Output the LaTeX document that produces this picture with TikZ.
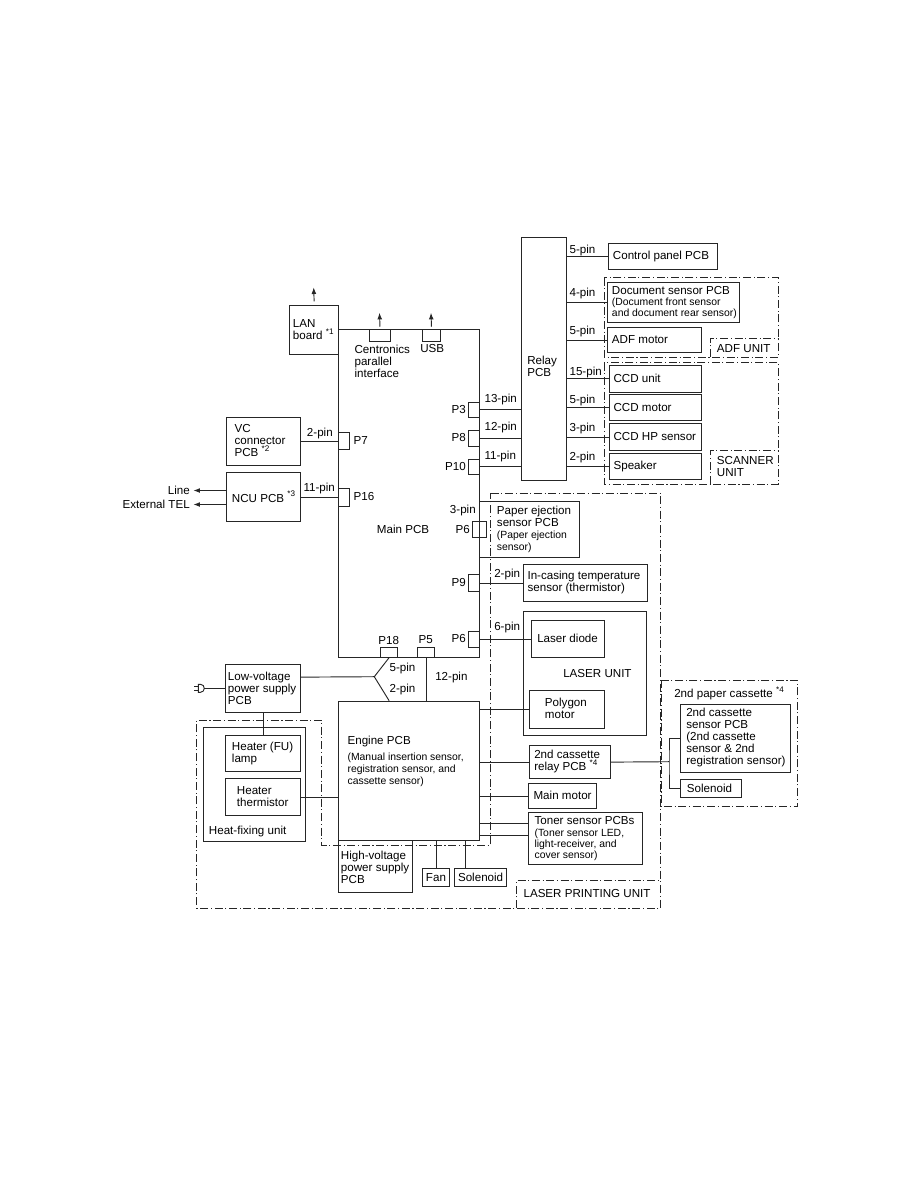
\documentclass[tikz,border=0pt]{standalone}
\usepackage{fontspec}
\setmainfont{Liberation Sans}
\usetikzlibrary{arrows.meta}
\pgfdeclarelayer{edgelayer}
\pgfdeclarelayer{nodelayer}
\pgfsetlayers{edgelayer,nodelayer,main}
\newcommand{\smalltxt}{\fontsize{7.8}{8.5}\selectfont}
\tikzstyle{none}=[inner sep=0pt, anchor=west, align=left, font=\fontsize{8.7}{9}\selectfont]
\tikzstyle{box}=[rectangle, draw=black!85, line width=0.7pt, anchor=north west, inner sep=0pt]
\tikzstyle{edge}=[draw=black!85, line width=0.7pt]
\tikzstyle{arrow}=[draw=black!85, line width=0.7pt, -{Latex[length=5pt,width=3.6pt]}]
\tikzstyle{unit}=[draw=black!85, line width=0.6pt, dash pattern=on 6pt off 2pt on 0.8pt off 2pt]
\tikzset{sz/.style 2 args={minimum width=#1*0.75pt, minimum height=#2*0.75pt}}

\begin{document}
\begin{tikzpicture}[x=0.75pt, y=-0.75pt]
	\useasboundingbox (0,0) rectangle (918,1188);
	\begin{pgfonlayer}{nodelayer}
		\node [style=box, sz={141.3}{327.7}] (0) at (338, 329) {};
		\node [style=box, sz={48.7}{48.4}] (1) at (289.3, 305.3) {};
		\node [style=box, sz={21.6}{12.3}] (2) at (368.7, 329) {};
		\node [style=box, sz={17.4}{12.3}] (3) at (422.3, 329) {};
		\node [style=box, sz={74.3}{47.7}] (4) at (225.7, 417.3) {};
		\node [style=box, sz={74.3}{48.7}] (5) at (225.7, 472.3) {};
		\node [style=box, sz={11}{17.6}] (6) at (338, 431.7) {};
		\node [style=box, sz={11}{17.7}] (7) at (338, 488.3) {};
		\node [style=box, sz={11.6}{15}] (8) at (467.7, 401.7) {};
		\node [style=box, sz={11.6}{15.7}] (9) at (467.7, 430) {};
		\node [style=box, sz={11.6}{15.3}] (10) at (467.7, 458.7) {};
		\node [style=box, sz={44.7}{242.7}] (11) at (521, 237.3) {};
		\node [style=box, sz={109.3}{26}] (12) at (608, 243.3) {};
		\node [style=box, sz={132}{40.6}] (13) at (607.3, 281.7) {};
		\node [style=box, sz={93.4}{25.6}] (14) at (607.3, 326.7) {};
		\node [style=box, sz={92.6}{26.7}] (15) at (608.7, 365) {};
		\node [style=box, sz={92.6}{25.7}] (16) at (608.7, 394.3) {};
		\node [style=box, sz={92.6}{26.4}] (17) at (608.7, 423.3) {};
		\node [style=box, sz={92.6}{26}] (18) at (608.7, 453.3) {};
		\node [style=box, sz={100}{56.6}] (19) at (479.3, 500.7) {};
		\node [style=box, sz={14.3}{16.6}] (20) at (471.7, 520.7) {};
		\node [style=box, sz={11.6}{16.7}] (21) at (467.7, 574.3) {};
		\node [style=box, sz={124}{36.4}] (22) at (522.7, 564.3) {};
		\node [style=box, sz={11.6}{16}] (23) at (467.7, 630.7) {};
		\node [style=box, sz={122.7}{124.3}] (24) at (523.3, 610.7) {};
		\node [style=box, sz={73.6}{36.7}] (25) at (530.7, 620) {};
		\node [style=box, sz={75}{37.7}] (26) at (529.3, 690) {};
		\node [style=box, sz={17.3}{10}] (27) at (380, 646.7) {};
		\node [style=box, sz={17.6}{10}] (28) at (416.7, 646.7) {};
		\node [style=box, sz={74.7}{48}] (29) at (225.3, 664) {};
		\node [style=box, sz={102}{113.4}] (30) at (203.3, 727.3) {};
		\node [style=box, sz={74.7}{36}] (31) at (225.3, 735) {};
		\node [style=box, sz={74.7}{36.7}] (32) at (225.3, 778.3) {};
		\node [style=box, sz={141.6}{139.3}] (33) at (337.7, 700.7) {};
		\node [style=box, sz={74.3}{51.7}] (34) at (337.7, 840) {};
		\node [style=box, sz={27.6}{18.3}] (35) at (421.7, 867.7) {};
		\node [style=box, sz={51.7}{18.3}] (36) at (454.3, 867.7) {};
		\node [style=box, sz={80.7}{33.3}] (37) at (529.3, 745) {};
		\node [style=box, sz={67.4}{25.6}] (38) at (528.3, 782.7) {};
		\node [style=box, sz={113.4}{52.6}] (39) at (528.3, 811.7) {};
		\node [style=box, sz={110}{67.7}] (40) at (680, 704) {};
		\node [style=box, sz={61}{18.6}] (41) at (680, 778.7) {};
		\node [style=none] (50) at (292.7, 329.5) {LAN\\board \textsuperscript{*1}};
		\node [style=none] (51) at (354.3, 361) {Centronics\\parallel\\interface};
		\node [style=none] (52) at (420, 349) {USB};
		\node [style=none] (53) at (234.3, 441) {VC\\connector\\PCB \textsuperscript{*2}};
		\node [style=none] (54) at (231.7, 496.7) {NCU PCB \textsuperscript{*3}};
		\node [style=none] (55) at (306.7, 433) {2-pin};
		\node [style=none] (56) at (303.3, 488.7) {11-pin};
		\node [style=none] (57) at (353.3, 441) {P7};
		\node [style=none] (58) at (353.3, 497) {P16};
		\node [style=none, anchor=east] (59) at (190, 490.5) {Line};
		\node [style=none, anchor=east] (60) at (190, 504.5) {External TEL};
		\node [style=none] (61) at (376.7, 529.3) {Main PCB};
		\node [style=none] (62) at (527, 366) {Relay\\PCB};
		\node [style=none, anchor=east] (63) at (466, 409.3) {P3};
		\node [style=none, anchor=east] (64) at (466, 437.7) {P8};
		\node [style=none, anchor=east] (65) at (466, 466.7) {P10};
		\node [style=none] (66) at (484.3, 399.3) {13-pin};
		\node [style=none] (67) at (484.3, 427.7) {12-pin};
		\node [style=none] (68) at (484.3, 456.7) {11-pin};
		\node [style=none] (69) at (569.3, 250.7) {5-pin};
		\node [style=none] (70) at (569.3, 293.3) {4-pin};
		\node [style=none] (71) at (569.3, 331) {5-pin};
		\node [style=none] (72) at (569.3, 372.7) {15-pin};
		\node [style=none] (73) at (569.3, 400.7) {5-pin};
		\node [style=none] (74) at (569.3, 428.7) {3-pin};
		\node [style=none] (75) at (569.3, 457.7) {2-pin};
		\node [style=none] (76) at (612.7, 256.3) {Control panel PCB};
		\node [style=none] (77) at (611.7, 302.6) {Document sensor PCB\\[-0.5pt]{\smalltxt (Document front sensor}\\[-1pt]{\smalltxt and document rear sensor)}};
		\node [style=none] (78) at (611.7, 339.5) {ADF motor};
		\node [style=none] (79) at (613.3, 378.3) {CCD unit};
		\node [style=none] (80) at (613.3, 407.2) {CCD motor};
		\node [style=none] (81) at (613.3, 436.5) {CCD HP sensor};
		\node [style=none] (82) at (613.3, 466.3) {Speaker};
		\node [style=none] (83) at (716.7, 348.3) {ADF UNIT};
		\node [style=none] (84) at (716.7, 467) {SCANNER\\UNIT};
		\node [style=none, anchor=east] (85) at (476, 510.7) {3-pin};
		\node [style=none, anchor=east] (86) at (470, 529) {P6};
		\node [style=none] (87) at (496.7, 529) {Paper ejection\\sensor PCB\\{\smalltxt (Paper ejection}\\{\smalltxt sensor)}};
		\node [style=none] (88) at (494, 574.3) {2-pin};
		\node [style=none, anchor=east] (89) at (466, 582.7) {P9};
		\node [style=none] (90) at (527.3, 582.5) {In-casing temperature\\sensor (thermistor)};
		\node [style=none] (91) at (494, 627.7) {6-pin};
		\node [style=none, anchor=east] (92) at (466, 638.7) {P6};
		\node [style=none] (93) at (537, 638.3) {Laser diode};
		\node [style=none] (94) at (563, 673.3) {LASER UNIT};
		\node [style=none] (95) at (544.7, 708.8) {Polygon\\motor};
		\node [style=none, anchor=center] (96) at (388.7, 640) {P18};
		\node [style=none, anchor=center] (97) at (425.7, 640) {P5};
		\node [style=none] (98) at (389.3, 668.3) {5-pin};
		\node [style=none] (99) at (389.3, 689.3) {2-pin};
		\node [style=none] (100) at (435, 677.3) {12-pin};
		\node [style=none] (101) at (227.7, 688.5) {Low-voltage\\power supply\\PCB};
		\node [style=none] (102) at (231.7, 753) {Heater (FU)\\lamp};
		\node [style=none] (103) at (236.7, 797) {Heater\\thermistor};
		\node [style=none] (104) at (208.7, 831) {Heat-fixing unit};
		\node [style=none] (105) at (347.3, 761.5) {Engine PCB\\[3.5pt]{\smalltxt (Manual insertion sensor,}\\{\smalltxt registration sensor, and}\\{\smalltxt cassette sensor)}};
		\node [style=none] (106) at (340.7, 867) {High-voltage\\power supply\\PCB};
		\node [style=none, anchor=center] (107) at (35.center) {Fan};
		\node [style=none, anchor=center] (108) at (36.center) {Solenoid};
		\node [style=none] (109) at (523.3, 893.3) {LASER PRINTING UNIT};
		\node [style=none] (110) at (534, 761.7) {2nd cassette\\relay PCB \textsuperscript{*4}};
		\node [style=none] (111) at (533.3, 795.5) {Main motor};
		\node [style=none] (112) at (534.3, 838.4) {Toner sensor PCBs\\{\smalltxt (Toner sensor LED,}\\[-0.5pt]{\smalltxt light-receiver, and}\\[-0.5pt]{\smalltxt cover sensor)}};
		\node [style=none] (113) at (674, 693.3) {2nd paper cassette \textsuperscript{*4}};
		\node [style=none] (114) at (686, 737.8) {2nd cassette\\sensor PCB\\(2nd cassette\\sensor \& 2nd\\registration sensor)};
		\node [style=none] (115) at (686.7, 788) {Solenoid};
		\coordinate (120) at (374.3, 676.7);
		\coordinate (121) at (669, 761.7);
		\coordinate (122) at (204.2, 688.3);
		\coordinate (123) at (313.7, 287.3);
		\coordinate (124) at (379.5, 312.7);
		\coordinate (125) at (431, 312.7);
		\coordinate (126) at (193.3, 490.5);
		\coordinate (127) at (193.3, 504.5);
		\coordinate (128) at ([yshift=11.5pt]39.west);
		\coordinate (129) at ([yshift=2.25pt]39.west);
		\coordinate (130) at ([xshift=8pt]36.north west);
		\coordinate (131) at ([yshift=8.5pt]29.east);
	\end{pgfonlayer}
	\begin{pgfonlayer}{edgelayer}
		\draw [style=arrow] ([yshift=3pt]1.north) to (123);
		\draw [style=arrow] ([yshift=1.7pt]2.north) to (124);
		\draw [style=arrow] ([yshift=1.7pt]3.north) to (125);
		\draw [style=arrow] (5.west |- 126) to (126);
		\draw [style=arrow] (5.west |- 127) to (127);
		\draw [style=edge] (4.east) to (4.east -| 0.west);
		\draw [style=edge] (5.east) to (5.east -| 0.west);
		\draw [style=edge] (8.east) to (8.east -| 11.west);
		\draw [style=edge] (9.east) to (9.east -| 11.west);
		\draw [style=edge] (10.east) to (10.east -| 11.west);
		\draw [style=edge] (12.west) to (12.west -| 11.east);
		\draw [style=edge] (13.west) to (13.west -| 11.east);
		\draw [style=edge] (14.west) to (14.west -| 11.east);
		\draw [style=edge] (15.west) to (15.west -| 11.east);
		\draw [style=edge] (16.west) to (16.west -| 11.east);
		\draw [style=edge] (17.west) to (17.west -| 11.east);
		\draw [style=edge] (18.west) to (18.west -| 11.east);
		\draw [style=edge] (21.east) to (21.east -| 22.west);
		\draw [style=edge] (23.east) to (23.east -| 25.west);
		\draw [style=edge] (26.west) to (26.west -| 33.east);
		\draw [style=edge] (37.west) to (37.west -| 33.east);
		\draw [style=edge] (38.west) to (38.west -| 33.east);
		\draw [style=edge] (128) to (128 -| 33.east);
		\draw [style=edge] (129) to (129 -| 33.east);
		\draw [style=edge] (37.east) to (121);
		\draw [style=edge] (40.west) -| (121) |- (41.west);
		\draw [style=edge] (35.north) to (35.north |- 33.south);
		\draw [style=edge] (130) to (130 |- 33.south);
		\draw [style=edge] (32.east) to (32.east -| 33.west);
		\draw [style=edge] (29.south) to (31.north);
		\draw [style=edge] (29.west) to (29.west -| 122);
		\draw [style=edge] (131) to (120);
		\draw [style=edge] (27.south) -- (120) -- (27.south |- 33.north);
		\draw [style=edge] (28.south) to (28.south |- 33.north);
		\draw [style=edge] (198.3, 684.3) -- (200.5, 684.3) .. controls (205.5, 684.3) and (205.5, 692.3) .. (200.5, 692.3) -- (198.3, 692.3) -- cycle;
		\draw [style=edge] (198.3, 686.3) -- (194.3, 686.3);
		\draw [style=edge] (198.3, 690.3) -- (194.3, 690.3);
		\draw [style=unit] (604.3, 277.7) rectangle (778.3, 357);
		\draw [style=unit] (710, 357) |- (778.3, 338.3);
		\draw [style=unit] (604.3, 362.7) rectangle (778.3, 484);
		\draw [style=unit] (710, 484) |- (778.3, 450.7);
		\draw [style=unit] (490.7, 493.3) -- (660.5, 493.3) -- (660.5, 908) -- (196.7, 908) -- (196.7, 720) -- (321.7, 720) -- (321.7, 845) -- (490.7, 845) -- cycle;
		\draw [style=unit] (516.7, 908) |- (660.5, 880);
		\draw [style=unit] (661, 680) rectangle (797.3, 806.7);
	\end{pgfonlayer}
\end{tikzpicture}
\end{document}
